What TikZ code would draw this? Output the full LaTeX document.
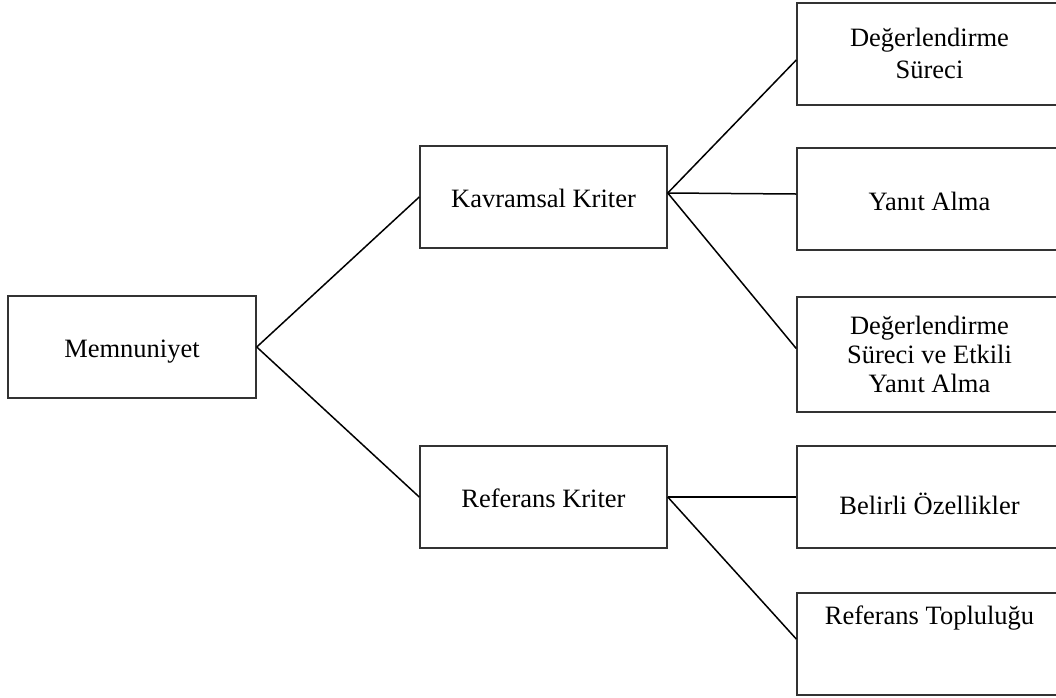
\documentclass[tikz,border=0pt]{standalone}
\usepackage{fontspec}
\setmainfont{Liberation Serif}
\begin{document}
\begin{tikzpicture}[x=1pt,y=-1pt,
  box/.style={draw=black!80,line width=1.5pt,inner sep=0pt,align=center,
    font=\fontsize{26.5}{28.5}\selectfont},
  lift/.style={text height=#1,text depth=6pt},
  midbox/.style={box,minimum width=247pt,minimum height=102pt},
  leafbox/.style={box,minimum width=265pt,minimum height=102pt},
  link/.style={draw=black,line width=1.5pt}]
\useasboundingbox (0,0) rectangle (1056,697);
\clip (0,0) rectangle (1056,697);

% root
\node[box,lift=26pt,minimum width=248pt,minimum height=102pt] (mem) at (132,347) {Memnuniyet};

% criteria
\node[midbox,lift=26pt] (kav) at (543.5,197) {Kavramsal Kriter};
\node[midbox,lift=26pt] (ref) at (543.5,497) {Referans Kriter};

% leaves (multi-line labels sit on the baseline of their last line)
\node[leafbox] (ds) at (929.5,54) {};
\node[font=\fontsize{26.5}{32}\selectfont,align=center,anchor=base] (dsl) at ([yshift=-76pt]ds.north) {Değerlendirme\\Süreci};
\node[leafbox,lift=28pt] (ya) at (929.5,199) {Yanıt Alma};
\node[leafbox,minimum height=115pt] (dse) at (929.5,354.5) {};
\node[font=\fontsize{26.5}{29}\selectfont,align=center,anchor=base] (dsel) at ([yshift=-96pt]dse.north) {Değerlendirme\\Süreci ve Etkili\\Yanıt Alma};
\node[leafbox,lift=40pt] (bo) at (929.5,497) {Belirli Özellikler};
\node[leafbox] (rt) at (929.5,644) {};
\node[font=\fontsize{26.5}{28.5}\selectfont,anchor=base] (rtl) at ([yshift=-32pt]rt.north) {Referans Topluluğu};

% connectors
\draw[link] (mem.east) -- (kav.west);
\draw[link] (mem.east) -- (ref.west);
\draw[link] ([yshift=4pt]kav.east) -- ([yshift=-6pt]ds.west);
\draw[link] ([yshift=4pt]kav.east) -- ([yshift=5pt]ya.west);
\draw[link] ([yshift=4pt]kav.east) -- ([yshift=6pt]dse.west);
\draw[link] (ref.east) -- (bo.west);
\draw[link] (ref.east) -- ([yshift=5pt]rt.west);
\end{tikzpicture}
\end{document}
